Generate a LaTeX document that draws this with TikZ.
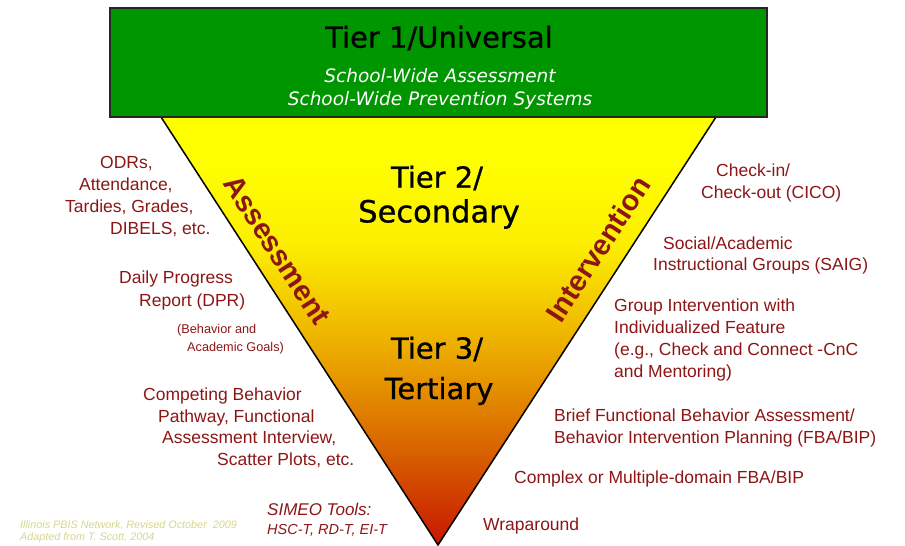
\documentclass[tikz,border=0pt]{standalone}
\usepackage{fontspec}
\setmainfont{Liberation Sans}
\newfontfamily\tierfont[FakeBold=0.8]{DejaVu Sans}
\newfontfamily\witfont{DejaVu Sans}
\definecolor{tred}{RGB}{140,22,22}
\definecolor{tgreen}{RGB}{0,150,0}
\definecolor{foot}{RGB}{214,214,140}
\definecolor{sc1}{RGB}{255,255,0}
\definecolor{sc2}{RGB}{252,238,0}
\definecolor{sc3}{RGB}{236,172,0}
\definecolor{sc4}{RGB}{216,98,0}
\definecolor{sc5}{RGB}{200,22,0}
\pgfdeclareverticalshading{tri}{100bp}{color(0bp)=(sc5); color(25bp)=(sc5); color(36bp)=(sc4); color(48bp)=(sc3); color(60bp)=(sc2); color(70bp)=(sc1); color(100bp)=(sc1)}
\tikzset{
  tier/.style={inner sep=0pt, font=\tierfont\fontsize{29}{36}\selectfont, text=black},
  wit/.style={inner sep=0pt, font=\witfont\itshape\fontsize{18.5}{22}\selectfont, text=white},
  rtxt/.style={inner sep=0pt, anchor=mid west, text=tred, font=\fontsize{17.5}{21.7}\selectfont},
  rblock/.style={inner sep=0pt, anchor=west, align=left, text=tred, font=\fontsize{17.5}{21.7}\selectfont},
  stxt/.style={inner sep=0pt, anchor=mid west, text=tred, font=\fontsize{12.7}{15}\selectfont},
  side/.style={inner sep=0pt, text=tred, font=\bfseries\fontsize{29}{32}\selectfont},
  foottxt/.style={inner sep=0pt, anchor=mid west, text=foot, font=\itshape\fontsize{10.8}{12}\selectfont}
}
\begin{document}
\begin{tikzpicture}[x=1pt,y=-1pt]
\useasboundingbox (0,0) rectangle (905,546);
% triangle
\shade[shading=tri, draw=black, line width=1.5pt, line join=miter] (161,117) -- (716,117) -- (438,545) -- cycle;
% top box
\draw[fill=tgreen, draw=black!85, line width=1.4pt] (110,8) rectangle (767,117);
\node[tier] (t1) at (439,38) {Tier 1/Universal};
\node[wit] (t1a) at (440,76) {School-Wide Assessment};
\node[wit] (t1b) at (440,100) {School-Wide Prevention Systems};
% tiers
\node[tier] (t2a) at (437,178) {Tier 2/};
\node[tier, font=\tierfont\fontsize{30.5}{36}\selectfont] (t2b) at (439,214) {Secondary};
\node[tier] (t3a) at (437,349) {Tier 3/};
\node[tier] (t3b) at (439,391) {Tertiary};
% side labels
\node[side, rotate=-57] (assess) at (277,250) {Assessment};
\node[side, rotate=57] (interv) at (598,249) {Intervention};
% left texts
\node[rtxt] (l1) at (100,166) {ODRs,};
\node[rtxt] (l2) at (79,188) {Attendance,};
\node[rtxt] (l3) at (65,210) {Tardies, Grades,};
\node[rtxt] (l4) at (110,232) {DIBELS, etc.};
\node[rtxt] (l5) at (119,281) {Daily Progress};
\node[rtxt] (l6) at (139,304) {Report (DPR)};
\node[stxt] (l7) at (177,331) {(Behavior and};
\node[stxt] (l8) at (187,349) {Academic Goals)};
\node[rtxt] (l9) at (143,398) {Competing Behavior};
\node[rtxt] (l10) at (158,420) {Pathway, Functional};
\node[rtxt] (l11) at (162,441) {Assessment Interview,};
\node[rtxt] (l12) at (217,463) {Scatter Plots, etc.};
\node[inner sep=0pt, anchor=mid west, text=tred, font=\itshape\fontsize{17}{20}\selectfont] (simeo1) at (267,513) {SIMEO Tools:};
\node[inner sep=0pt, anchor=mid west, text=tred, font=\itshape\fontsize{14.5}{18}\selectfont] (simeo2) at (267,532) {HSC-T, RD-T, EI-T};
% footer
\node[foottxt] (f1) at (20,526) {Illinois PBIS Network, Revised October \ 2009};
\node[foottxt] (f2) at (20,538) {Adapted from T. Scott, 2004};
% right texts
\node[rtxt] (r1) at (716,174) {Check-in/};
\node[rtxt] (r2) at (701,196) {Check-out (CICO)};
\node[rtxt] (r3) at (663,247) {Social/Academic};
\node[rtxt] (r4) at (653,268) {Instructional Groups (SAIG)};
\node[rblock] (r5) at (614,340) {Group Intervention with\\Individualized Feature\\(e.g., Check and Connect -CnC\\and Mentoring)};
\node[rblock] (r6) at (554,428) {Brief Functional Behavior Assessment/\\Behavior Intervention Planning (FBA/BIP)};
\node[rtxt] (r7) at (514,481) {Complex or Multiple-domain FBA/BIP};
\node[rtxt] (r8) at (483,528) {Wraparound};
\end{tikzpicture}
\end{document}
